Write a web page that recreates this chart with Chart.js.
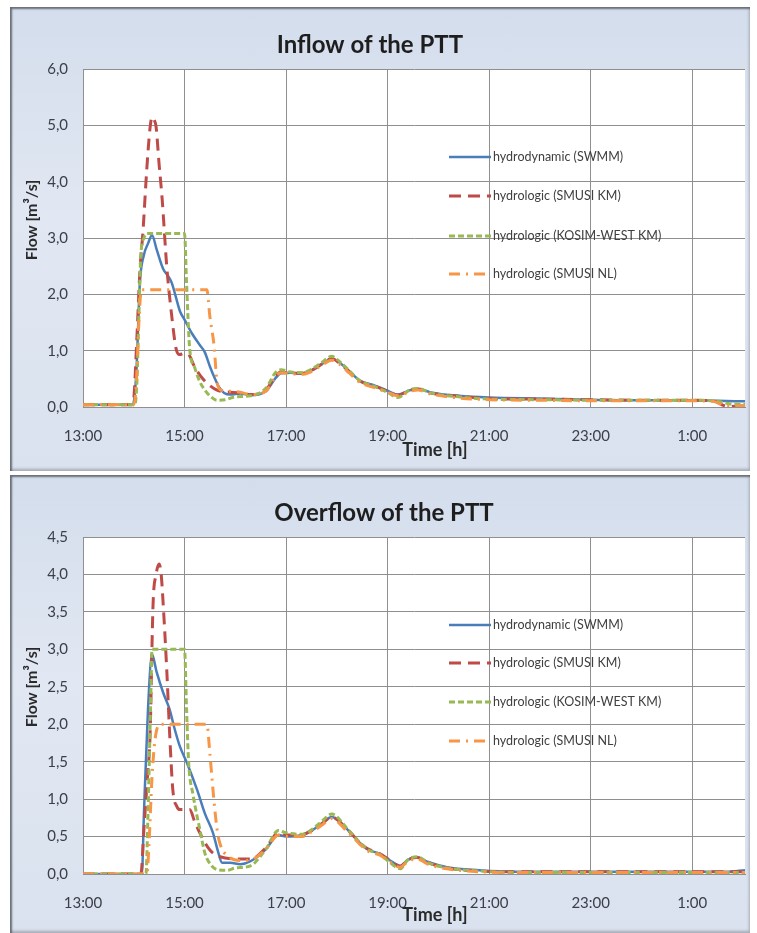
<!DOCTYPE html>
<html>
<head>
<meta charset="utf-8">
<script src="https://cdn.jsdelivr.net/npm/chart.js@4.4.0/dist/chart.umd.min.js"></script>
<style>
  html, body { margin: 0; padding: 0; background: #fff; }
  body { width: 757px; height: 933px; position: relative; overflow: hidden; }
  .panel {
    position: absolute; left: 10px; width: 740px;
    background: linear-gradient(to bottom, #d4ddec 0%, #e1e8f3 45%, #dae2ef 100%);
    box-shadow: inset 2px 2px 2px rgba(85, 90, 100, 0.85), inset -1px -2px 3px rgba(130, 135, 145, 0.6);
  }
  .panel canvas { position: absolute; left: 0; top: 0; }
</style>
</head>
<body>
<div class="panel" style="top:7px;height:464px"><canvas id="inflow" width="740" height="464"></canvas></div>
<div class="panel" style="top:475px;height:458px"><canvas id="overflow" width="740" height="458"></canvas></div>
<script>
// time axis in hours (25 = 1:00 next day)
const hourTicks = [13, 15, 17, 19, 21, 23, 25];
const seriesLabels = ["hydrodynamic (SWMM)", "hydrologic (SMUSI KM)", "hydrologic (KOSIM-WEST KM)", "hydrologic (SMUSI NL)"];

// Inflow of the PTT  [hour, m3/s]
const inflowSwmm = [[13.0,0.04],[13.98,0.04],[14.05,0.6],[14.12,2.2],[14.2,2.7],[14.28,2.9],[14.36,3.05],[14.45,2.8],[14.58,2.45],[14.68,2.32],[14.75,2.2],[14.83,1.95],[14.91,1.7],[15.0,1.55],[15.15,1.3],[15.3,1.1],[15.4,0.97],[15.5,0.72],[15.6,0.5],[15.68,0.35],[15.78,0.25],[15.9,0.22],[16.1,0.24],[16.3,0.21],[16.6,0.28],[16.8,0.52],[16.9,0.6],[17.1,0.61],[17.3,0.59],[17.5,0.65],[17.7,0.76],[17.9,0.85],[18.05,0.79],[18.25,0.63],[18.45,0.47],[18.75,0.38],[19.0,0.29],[19.2,0.22],[19.45,0.3],[19.6,0.32],[19.85,0.26],[20.4,0.2],[21.0,0.17],[22.0,0.15],[23.0,0.13],[24.0,0.12],[25.0,0.12],[25.5,0.11],[26.04,0.1]];
const inflowSmusiKm = [[13.0,0.04],[13.96,0.04],[14.0,0.15],[14.06,1.2],[14.12,2.4],[14.18,3.1],[14.26,4.27],[14.32,4.95],[14.36,5.15],[14.4,5.1],[14.44,4.97],[14.5,4.3],[14.56,3.68],[14.65,2.49],[14.75,1.6],[14.83,1.05],[14.9,0.93],[15.0,0.95],[15.08,0.93],[15.2,0.71],[15.36,0.5],[15.5,0.38],[15.64,0.3],[15.8,0.27],[16.1,0.25],[16.3,0.22],[16.6,0.3],[16.8,0.56],[16.9,0.62],[17.1,0.6],[17.3,0.6],[17.5,0.65],[17.7,0.76],[17.9,0.86],[18.05,0.78],[18.25,0.62],[18.45,0.46],[18.75,0.37],[19.0,0.28],[19.2,0.21],[19.45,0.3],[19.6,0.32],[19.85,0.25],[20.4,0.19],[21.0,0.15],[22.0,0.14],[23.0,0.13],[24.0,0.12],[25.0,0.12],[25.4,0.11],[25.7,0.01],[26.04,0.02]];
const inflowKosim = [[13.0,0.04],[14.02,0.04],[14.06,0.4],[14.1,1.6],[14.14,2.7],[14.2,3.0],[14.26,3.08],[15.0,3.08],[15.04,2.2],[15.1,1.05],[15.2,0.7],[15.3,0.45],[15.4,0.3],[15.52,0.18],[15.64,0.12],[15.8,0.13],[16.0,0.18],[16.3,0.2],[16.6,0.33],[16.8,0.62],[16.9,0.66],[17.1,0.62],[17.3,0.61],[17.5,0.67],[17.7,0.79],[17.9,0.9],[18.05,0.81],[18.25,0.64],[18.45,0.47],[18.75,0.36],[19.0,0.26],[19.2,0.17],[19.45,0.31],[19.6,0.33],[19.85,0.25],[20.4,0.18],[21.0,0.14],[22.0,0.13],[23.0,0.12],[24.0,0.12],[25.0,0.12],[25.5,0.1],[25.8,0.05],[26.04,0.05]];
const inflowSmusiNl = [[13.0,0.04],[14.0,0.04],[14.05,0.4],[14.1,1.5],[14.15,2.08],[15.44,2.08],[15.5,1.6],[15.58,1.1],[15.64,0.45],[15.72,0.3],[15.9,0.28],[16.1,0.26],[16.3,0.22],[16.6,0.28],[16.8,0.55],[16.9,0.61],[17.1,0.59],[17.3,0.58],[17.5,0.63],[17.7,0.74],[17.9,0.83],[18.05,0.76],[18.25,0.6],[18.45,0.44],[18.75,0.34],[19.0,0.26],[19.2,0.2],[19.45,0.28],[19.6,0.3],[19.85,0.23],[20.4,0.16],[21.0,0.13],[22.0,0.12],[23.0,0.11],[24.0,0.11],[25.0,0.11],[25.4,0.1],[25.7,0.02],[26.04,0.02]];

// Overflow of the PTT  [hour, m3/s]
const overflowSwmm = [[13.0,0],[14.16,0],[14.2,0.8],[14.28,2.2],[14.36,2.93],[14.45,2.7],[14.58,2.42],[14.71,2.19],[14.8,1.95],[14.91,1.7],[15.05,1.48],[15.25,1.12],[15.4,0.81],[15.56,0.55],[15.66,0.3],[15.74,0.15],[15.9,0.15],[16.1,0.13],[16.3,0.17],[16.6,0.33],[16.85,0.52],[17.0,0.5],[17.3,0.52],[17.5,0.58],[17.7,0.67],[17.9,0.76],[18.2,0.6],[18.45,0.42],[18.6,0.33],[18.85,0.27],[19.05,0.18],[19.25,0.11],[19.4,0.19],[19.58,0.22],[19.8,0.16],[20.17,0.09],[20.8,0.05],[21.5,0.03],[23.0,0.03],[25.0,0.03],[25.7,0.03],[26.04,0.05]];
const overflowSmusiKm = [[13.0,0],[14.14,0],[14.2,0.6],[14.27,1.3],[14.32,1.83],[14.38,3.6],[14.44,4.0],[14.5,4.14],[14.54,4.0],[14.58,3.6],[14.65,2.72],[14.71,1.83],[14.77,1.12],[14.85,0.9],[14.91,0.86],[15.1,0.86],[15.2,0.7],[15.3,0.55],[15.5,0.32],[15.7,0.23],[16.1,0.2],[16.3,0.2],[16.6,0.35],[16.85,0.55],[17.0,0.52],[17.3,0.52],[17.5,0.58],[17.7,0.67],[17.9,0.76],[18.2,0.6],[18.45,0.42],[18.6,0.34],[18.85,0.27],[19.05,0.18],[19.25,0.1],[19.4,0.19],[19.58,0.22],[19.8,0.15],[20.17,0.08],[20.8,0.04],[21.5,0.03],[23.0,0.03],[25.0,0.03],[26.04,0.03]];
const overflowKosim = [[13.0,0],[14.24,0],[14.28,0.8],[14.33,2.2],[14.36,3.0],[15.0,3.0],[15.04,2.2],[15.08,1.5],[15.17,1.05],[15.3,0.6],[15.4,0.28],[15.52,0.12],[15.64,0.06],[15.84,0.05],[16.0,0.08],[16.3,0.11],[16.6,0.33],[16.85,0.58],[17.0,0.55],[17.3,0.53],[17.5,0.59],[17.7,0.7],[17.9,0.8],[18.2,0.61],[18.45,0.42],[18.6,0.33],[18.85,0.26],[19.05,0.15],[19.25,0.07],[19.4,0.19],[19.58,0.23],[19.8,0.15],[20.17,0.08],[20.8,0.04],[21.5,0.02],[23.0,0.02],[25.0,0.02],[26.04,0.02]];
const overflowSmusiNl = [[13.0,0],[14.26,0],[14.3,0.4],[14.36,1.3],[14.42,1.8],[14.52,2.0],[15.44,2.0],[15.5,1.6],[15.57,1.05],[15.64,0.6],[15.7,0.4],[15.85,0.24],[16.1,0.18],[16.3,0.19],[16.6,0.33],[16.85,0.52],[17.0,0.5],[17.3,0.5],[17.5,0.56],[17.7,0.65],[17.9,0.74],[18.2,0.57],[18.45,0.4],[18.6,0.31],[18.85,0.25],[19.05,0.16],[19.25,0.09],[19.4,0.17],[19.58,0.2],[19.8,0.13],[20.17,0.07],[20.8,0.03],[21.5,0.02],[23.0,0.02],[25.0,0.02],[26.04,0.02]];

const FONT = "Lato, 'Open Sans', sans-serif";
const GRID = "#8f8f8f";
const TEXT = "#3b3f48";

// line styles: SWMM, SMUSI KM, KOSIM-WEST KM, SMUSI NL
const styles = [
  { color: "#4a7ebb", width: 2.5, dash: [] },
  { color: "#be4b48", width: 3, dash: [12, 7] },
  { color: "#98b954", width: 3, dash: [6, 3] },
  { color: "#f79646", width: 3, dash: [11, 6, 2, 6] },
];

const toXY = (pairs) => pairs.map(([x, y]) => ({ x, y }));

const decor = {
  id: "decor",
  beforeDraw(chart) {
    const { ctx, chartArea: a } = chart;
    ctx.save();
    ctx.fillStyle = "#ffffff";
    ctx.fillRect(a.left, a.top, a.right - a.left, a.bottom - a.top);
    ctx.restore();
  },
  afterDraw(chart, args, o) {
    const { ctx } = chart;
    ctx.save();
    ctx.fillStyle = "#1e1e1e";
    ctx.textAlign = "center";
    ctx.textBaseline = "middle";
    ctx.font = "bold 24px " + FONT;
    ctx.fillText(o.title, o.titleX, 38);

    ctx.fillStyle = "#2a2a2a";
    ctx.font = "bold 18px " + FONT;
    ctx.fillText("Time [h]", 425, o.xTitleY);

    ctx.font = "bold 16px " + FONT;
    ctx.translate(22, o.yTitleY);
    ctx.rotate(-Math.PI / 2);
    ctx.fillText("Flow [m³/s]", 0, 0);
    ctx.restore();

    // legend
    ctx.save();
    ctx.font = "12.5px " + FONT;
    ctx.textAlign = "left";
    ctx.textBaseline = "middle";
    chart.data.datasets.forEach((ds, i) => {
      const y = o.legendRows[i];
      ctx.strokeStyle = ds.borderColor;
      ctx.lineWidth = ds.borderWidth;
      ctx.setLineDash(ds.borderDash);
      ctx.beginPath();
      ctx.moveTo(439, y);
      ctx.lineTo(481, y);
      ctx.stroke();
      ctx.fillStyle = "#404040";
      ctx.fillText(ds.label, 483, y);
    });
    ctx.restore();
  },
};

function makeChart(id, series, yMax, yStep, opts) {
  const datasets = series.map((s, i) => ({
    label: seriesLabels[i],
    data: toXY(s),
    borderColor: styles[i].color,
    borderWidth: styles[i].width,
    borderDash: styles[i].dash,
    pointRadius: 0,
    cubicInterpolationMode: "monotone",
    fill: false,
    order: 3 - i,
  }));

  new Chart(document.getElementById(id), {
    type: "line",
    data: { datasets },
    options: {
      responsive: false,
      animation: false,
      layout: { padding: { top: 62, right: 5, left: 0, bottom: 0 } },
      scales: {
        x: {
          type: "linear",
          min: 13,
          max: 26.04,
          afterBuildTicks: (s) => { s.ticks = hourTicks.map((v) => ({ value: v })); },
          afterFit: (s) => { s.height = opts.xAxisHeight; },
          grid: { color: GRID, drawTicks: false },
          border: { color: GRID },
          ticks: {
            padding: 20,
            color: TEXT,
            font: { family: FONT, size: 15 },
            maxRotation: 0,
            autoSkip: false,
            callback: (v) => (v % 24) + ":00",
          },
        },
        y: {
          min: 0,
          max: yMax,
          afterFit: (s) => { s.width = 73; },
          grid: { color: GRID, drawTicks: false },
          border: { color: GRID },
          ticks: {
            stepSize: yStep,
            padding: 15,
            color: TEXT,
            font: { family: FONT, size: 15 },
            callback: (v) => v.toFixed(1).replace(".", ","),
          },
        },
      },
      plugins: {
        legend: { display: false },
        tooltip: { enabled: false },
        decor: opts,
      },
    },
    plugins: [decor],
  });
}

makeChart("inflow", [inflowSwmm, inflowSmusiKm, inflowKosim, inflowSmusiNl], 6, 1, {
  title: "Inflow of the PTT", titleX: 360, xTitleY: 443, yTitleY: 213,
  xAxisHeight: 64, legendRows: [150, 189, 229, 267],
});
makeChart("overflow", [overflowSwmm, overflowSmusiKm, overflowKosim, overflowSmusiNl], 4.5, 0.5, {
  title: "Overflow of the PTT", titleX: 374, xTitleY: 440, yTitleY: 212,
  xAxisHeight: 59, legendRows: [150, 188, 227, 266],
});
</script>
</body>
</html>
